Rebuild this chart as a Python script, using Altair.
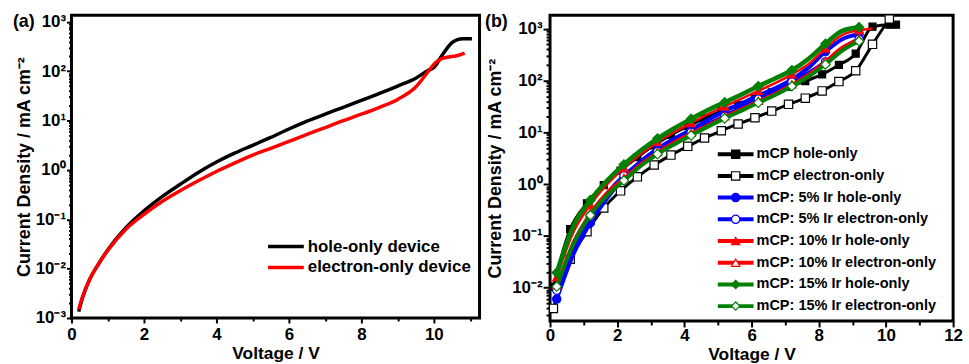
import altair as alt
import pandas as pd

FONT = "Liberation Sans"

# ---------------- panel (a) data ----------------
A_SERIES = ["hole-only device", "electron-only device"]
A_COLORS = ["#000000", "#ff0000"]

A_HOLE_V = [0.2, 0.3, 0.5, 0.75, 1.0, 1.5, 2.0, 2.5, 3.0, 3.5, 4.0, 4.5, 5.0, 5.5, 6.0, 6.5,
            7.0, 7.5, 8.0, 8.5, 9.0, 9.5, 9.85, 10.0, 10.25, 10.5, 10.65, 10.8, 11.05]
A_HOLE_J = [1.35e-3, 2.51e-3, 6.03e-3, 0.0126, 0.024, 0.0676, 0.148, 0.288, 0.513, 0.891, 1.445,
            2.19, 3.16, 4.57, 6.76, 9.77, 13.5, 18.6, 25.7, 35.5, 50.1, 72.4, 105, 120, 224, 380,
            437, 457, 457]

A_ELEC_V = [0.2, 0.3, 0.5, 0.75, 1.0, 1.5, 2.0, 2.5, 3.0, 3.5, 4.0, 4.5, 5.0, 5.5, 6.0, 6.5,
            7.0, 7.5, 8.0, 8.5, 9.0, 9.5, 9.85, 10.0, 10.2, 10.4, 10.6, 10.85]
A_ELEC_J = [1.51e-3, 2.63e-3, 6.03e-3, 0.0126, 0.0234, 0.0631, 0.126, 0.229, 0.380, 0.603, 0.933,
            1.38, 2.0, 2.75, 3.80, 5.25, 7.24, 10.0, 13.5, 18.6, 26.9, 47.9, 100, 138, 178, 195,
            204, 234]

# ---------------- panel (b) data ----------------
B_SERIES = ["mCP hole-only", "mCP electron-only", "mCP: 5% Ir hole-only", "mCP: 5% Ir electron-only",
            "mCP: 10% Ir hole-only", "mCP: 10% Ir electron-only", "mCP: 15% Ir hole-only",
            "mCP: 15% Ir electron-only"]
B_COLORS = ["#000000", "#000000", "#0000ff", "#0000ff", "#ff0000", "#ff0000", "#008000", "#008000"]
B_SHAPES = ["square", "square", "circle", "circle", "triangle-up", "triangle-up", "diamond", "diamond"]
B_FILLS = ["#000000", "#ffffff", "#0000ff", "#ffffff", "#ff0000", "#ffffff", "#008000", "#ffffff"]
B_SIZES = [50, 70, 70, 70, 70, 70, 90, 90]
B_WIDTHS = [3, 3, 4, 4, 2.5, 2.5, 4.5, 4]

MCP_V = [0.1, 0.6, 1.1, 1.6, 2.1, 2.6, 3.1, 3.6, 4.1, 4.6, 5.1, 5.6, 6.1, 6.6, 7.1, 7.6, 8.1,
         8.6, 9.1, 9.6, 10.1]
MCP_HOLE_V = MCP_V + [10.3]
MCP_HOLE_J = [0.0105, 0.135, 0.427, 0.955, 1.82, 3.31, 5.62, 8.91, 13.2, 18.6, 25.7, 33.9, 44.7,
              58.9, 75.9, 97.7, 132, 200, 331, 1096, 1202, 1202]
MCP_ELEC_J = [3.98e-3, 0.0355, 0.120, 0.347, 0.741, 1.38, 2.34, 3.63, 5.37, 7.76, 10.7, 14.5, 19.1,
              25.7, 34.7, 45.7, 63.1, 95.5, 155, 501, 1549]

IR_V = [0.2, 0.7, 1.2, 1.7, 2.2, 2.7, 3.2, 3.7, 4.2, 4.7, 5.2, 5.7, 6.2, 6.7, 7.2, 7.7, 8.2, 8.7, 9.2]
IR_MARKER_V = [0.2, 1.2, 2.2, 3.2, 4.2, 5.2, 6.2, 7.2, 8.2, 9.2]
IR5_HOLE_J = [6.03e-3, 0.0447, 0.178, 0.537, 1.32, 2.75, 4.79, 7.59, 11.2, 17.4, 25.7, 36.3, 51.3,
              70.8, 105, 178, 363, 631, 794]
IR5_ELEC_J = [8.91e-3, 0.0631, 0.240, 0.661, 1.45, 2.63, 4.27, 6.76, 10.0, 14.5, 20.4, 30.2, 43.7,
              63.1, 93.3, 141, 229, 417, 631]
IR10_HOLE_V = IR_V + [9.6]
IR10_HOLE_J = [0.0158, 0.120, 0.398, 1.0, 2.04, 3.80, 6.46, 10.2, 15.1, 22.4, 31.6, 44.7, 63.1,
               89.1, 132, 209, 417, 759, 933, 1000]
IR10_ELEC_J = [0.0112, 0.0794, 0.282, 0.708, 1.32, 2.51, 4.17, 6.61, 9.77, 14.1, 20.4, 28.8, 40.7,
               57.5, 85.1, 135, 240, 447, 631]
IR15_HOLE_J = [0.0195, 0.158, 0.490, 1.17, 2.40, 4.47, 7.59, 12.0, 18.2, 26.9, 38.0, 53.7, 77.6,
               110, 158, 263, 513, 912, 1072]
IR15_ELEC_J = [0.0105, 0.0708, 0.251, 0.603, 1.17, 2.24, 3.80, 5.89, 8.71, 12.9, 18.6, 26.3, 37.2,
               52.5, 77.6, 120, 204, 380, 575]

B_DATA = [
    (MCP_HOLE_V, MCP_HOLE_J, MCP_HOLE_V),
    (MCP_V, MCP_ELEC_J, MCP_V),
    (IR_V, IR5_HOLE_J, IR_MARKER_V),
    (IR_V, IR5_ELEC_J, IR_MARKER_V),
    (IR10_HOLE_V, IR10_HOLE_J, IR_MARKER_V),
    (IR_V, IR10_ELEC_J, IR_MARKER_V),
    (IR_V, IR15_HOLE_J, IR_MARKER_V),
    (IR_V, IR15_ELEC_J, IR_MARKER_V),
]

# ---------------- helpers ----------------
LOG10 = "(log(datum.value)/LN10)"
MAJOR_TEST = f"abs({LOG10} - round({LOG10})) < 0.01"
LABEL_EXPR = (f"{MAJOR_TEST} ? '10' + ['\u207b\u00b3','\u207b\u00b2','\u207b\u00b9','\u2070',"
              f"'\u00b9','\u00b2','\u00b3'][round({LOG10}) + 3] : ''")


def log_ticks(lo, hi):
    out = []
    for d in range(-4, 5):
        for m in range(1, 10):
            v = m * 10.0 ** d
            if lo * 0.999 <= v <= hi * 1.001:
                out.append(v)
    return out


def y_axis(lo, hi, title_x, major, minor):
    return alt.Axis(values=log_ticks(lo, hi), labelExpr=LABEL_EXPR, labelOverlap=False,
                    labelFlush=False, labelPadding=1,
                    tickSize={"condition": {"test": MAJOR_TEST, "value": major}, "value": minor},
                    title="Current Density / mA cm\u207b\u00b2", titleX=title_x,
                    titleBaseline="middle")


def x_axis(vmax, title_y, major, minor, label_pad):
    return alt.Axis(values=list(range(0, vmax + 1)),
                    labelExpr="datum.value % 2 == 0 ? datum.label : ''",
                    tickSize={"condition": {"test": "datum.value % 2 == 0", "value": major},
                              "value": minor},
                    labelOverlap=False, labelFlush=False, labelPadding=label_pad,
                    title="Voltage / V", titleY=title_y, titleBaseline="middle",
                    titleFontSize=17.5)


def panel_label(text, px, py):
    return alt.Chart(pd.DataFrame({"t": [text]})).mark_text(
        font=FONT, fontWeight="bold", fontSize=18, align="center", baseline="middle",
        color="black").encode(text="t:N", x=alt.value(px), y=alt.value(py))


# ---------------- panel (a) ----------------
A_YLO, A_YHI = 1e-3, 1367
df_a = pd.DataFrame({
    "V": A_HOLE_V + A_ELEC_V,
    "J": A_HOLE_J + A_ELEC_J,
    "series": [A_SERIES[0]] * len(A_HOLE_V) + [A_SERIES[1]] * len(A_ELEC_V),
    "ord": [0] * len(A_HOLE_V) + [1] * len(A_ELEC_V),
})
xa = alt.X("V:Q", scale=alt.Scale(domain=[0, 11.26], nice=False, zero=False),
           axis=x_axis(11, 36, 5, 3, 4))
ya = alt.Y("J:Q", scale=alt.Scale(type="log", domain=[A_YLO, A_YHI], nice=False),
           axis=y_axis(A_YLO, A_YHI, -47, 5, 3))
a_color = alt.Scale(domain=A_SERIES, range=A_COLORS)
lines_a = alt.Chart(df_a).mark_line(strokeWidth=3.5, interpolate="monotone", clip=True).encode(
    x=xa, y=ya, color=alt.Color("series:N", scale=a_color, legend=None),
    detail="ord:N")

leg_a_df = pd.DataFrame({"label": A_SERIES, "idx": [0, 1]})
leg_ya = alt.Y("idx:Q", scale=alt.Scale(domain=[0, 1], range=[233, 254]), axis=None)
leg_rule_a = alt.Chart(leg_a_df).mark_rule(strokeWidth=3.5).encode(
    x=alt.value(198), x2=alt.value(234), y=leg_ya,
    color=alt.Color("label:N", scale=a_color, legend=None))
leg_text_a = alt.Chart(leg_a_df).mark_text(
    font=FONT, fontWeight="bold", fontSize=17, align="left", baseline="middle",
    color="black").encode(x=alt.value(238), y=leg_ya, text="label:N")

panel_a = alt.layer(lines_a, leg_rule_a, leg_text_a, panel_label("(a)", -48, 7)).resolve_scale(
    y="independent").properties(width=411, height=305)

# ---------------- panel (b) ----------------
B_YLO, B_YHI = 2.27e-3, 1829
xb = alt.X("V:Q", scale=alt.Scale(domain=[0, 12], nice=False, zero=False),
           axis=x_axis(12, 34, 6, 4, 1))
yb = alt.Y("J:Q", scale=alt.Scale(type="log", domain=[B_YLO, B_YHI], nice=False),
           axis=y_axis(B_YLO, B_YHI, -55, 7, 4))

layers_b = []
for i, name in enumerate(B_SERIES):
    vs, js, mv = B_DATA[i]
    df_line = pd.DataFrame({"V": vs, "J": js})
    mset = set(round(v, 3) for v in mv)
    df_pts = df_line[[round(v, 3) in mset for v in vs]]
    layers_b.append(alt.Chart(df_line).mark_line(
        color=B_COLORS[i], strokeWidth=B_WIDTHS[i], interpolate="monotone", clip=True
    ).encode(x=xb, y=yb))
    layers_b.append(alt.Chart(df_pts).mark_point(
        shape=B_SHAPES[i], filled=True, fill=B_FILLS[i], stroke=B_COLORS[i], strokeWidth=1.2,
        size=B_SIZES[i], opacity=1, clip=True
    ).encode(x=xb, y=yb))
data_b = alt.layer(*layers_b)

leg_b_df = pd.DataFrame({"label": B_SERIES, "idx": list(range(len(B_SERIES)))})
leg_yb = alt.Y("idx:Q", scale=alt.Scale(domain=[0, 7], range=[140, 293]), axis=None)
b_stroke = alt.Scale(domain=B_SERIES, range=B_COLORS)
leg_rule_b = alt.Chart(leg_b_df).mark_rule(strokeWidth=4).encode(
    x=alt.value(169), x2=alt.value(205), y=leg_yb,
    stroke=alt.Stroke("label:N", scale=b_stroke, legend=None))
leg_pts_b = alt.Chart(leg_b_df).mark_point(filled=True, size=70, strokeWidth=1.2, opacity=1).encode(
    x=alt.value(187), y=leg_yb,
    shape=alt.Shape("label:N", scale=alt.Scale(domain=B_SERIES, range=B_SHAPES), legend=None),
    fill=alt.Fill("label:N", scale=alt.Scale(domain=B_SERIES, range=B_FILLS), legend=None),
    stroke=alt.Stroke("label:N", scale=b_stroke, legend=None))
leg_text_b = alt.Chart(leg_b_df).mark_text(
    font=FONT, fontWeight="bold", fontSize=14.6, align="left", baseline="middle",
    color="black").encode(x=alt.value(208), y=leg_yb, text="label:N")

panel_b = alt.layer(data_b, leg_rule_b, leg_pts_b, leg_text_b,
                    panel_label("(b)", -54, 7)).resolve_scale(
    y="independent").properties(width=406, height=308)

chart = alt.hconcat(panel_a, panel_b, spacing=2).properties(
    padding={"left": 11, "top": 10, "right": 5, "bottom": 0}
).configure_view(
    stroke="black", strokeWidth=3
).configure_axis(
    labelFont=FONT, labelFontWeight="bold", labelFontSize=17, labelColor="black",
    titleFont=FONT, titleFontWeight="bold", titleFontSize=18, titleColor="black",
    tickColor="black", tickWidth=2, domain=False, grid=False
)

chart.save("out.html", embed_options={"renderer": "svg", "actions": False})
